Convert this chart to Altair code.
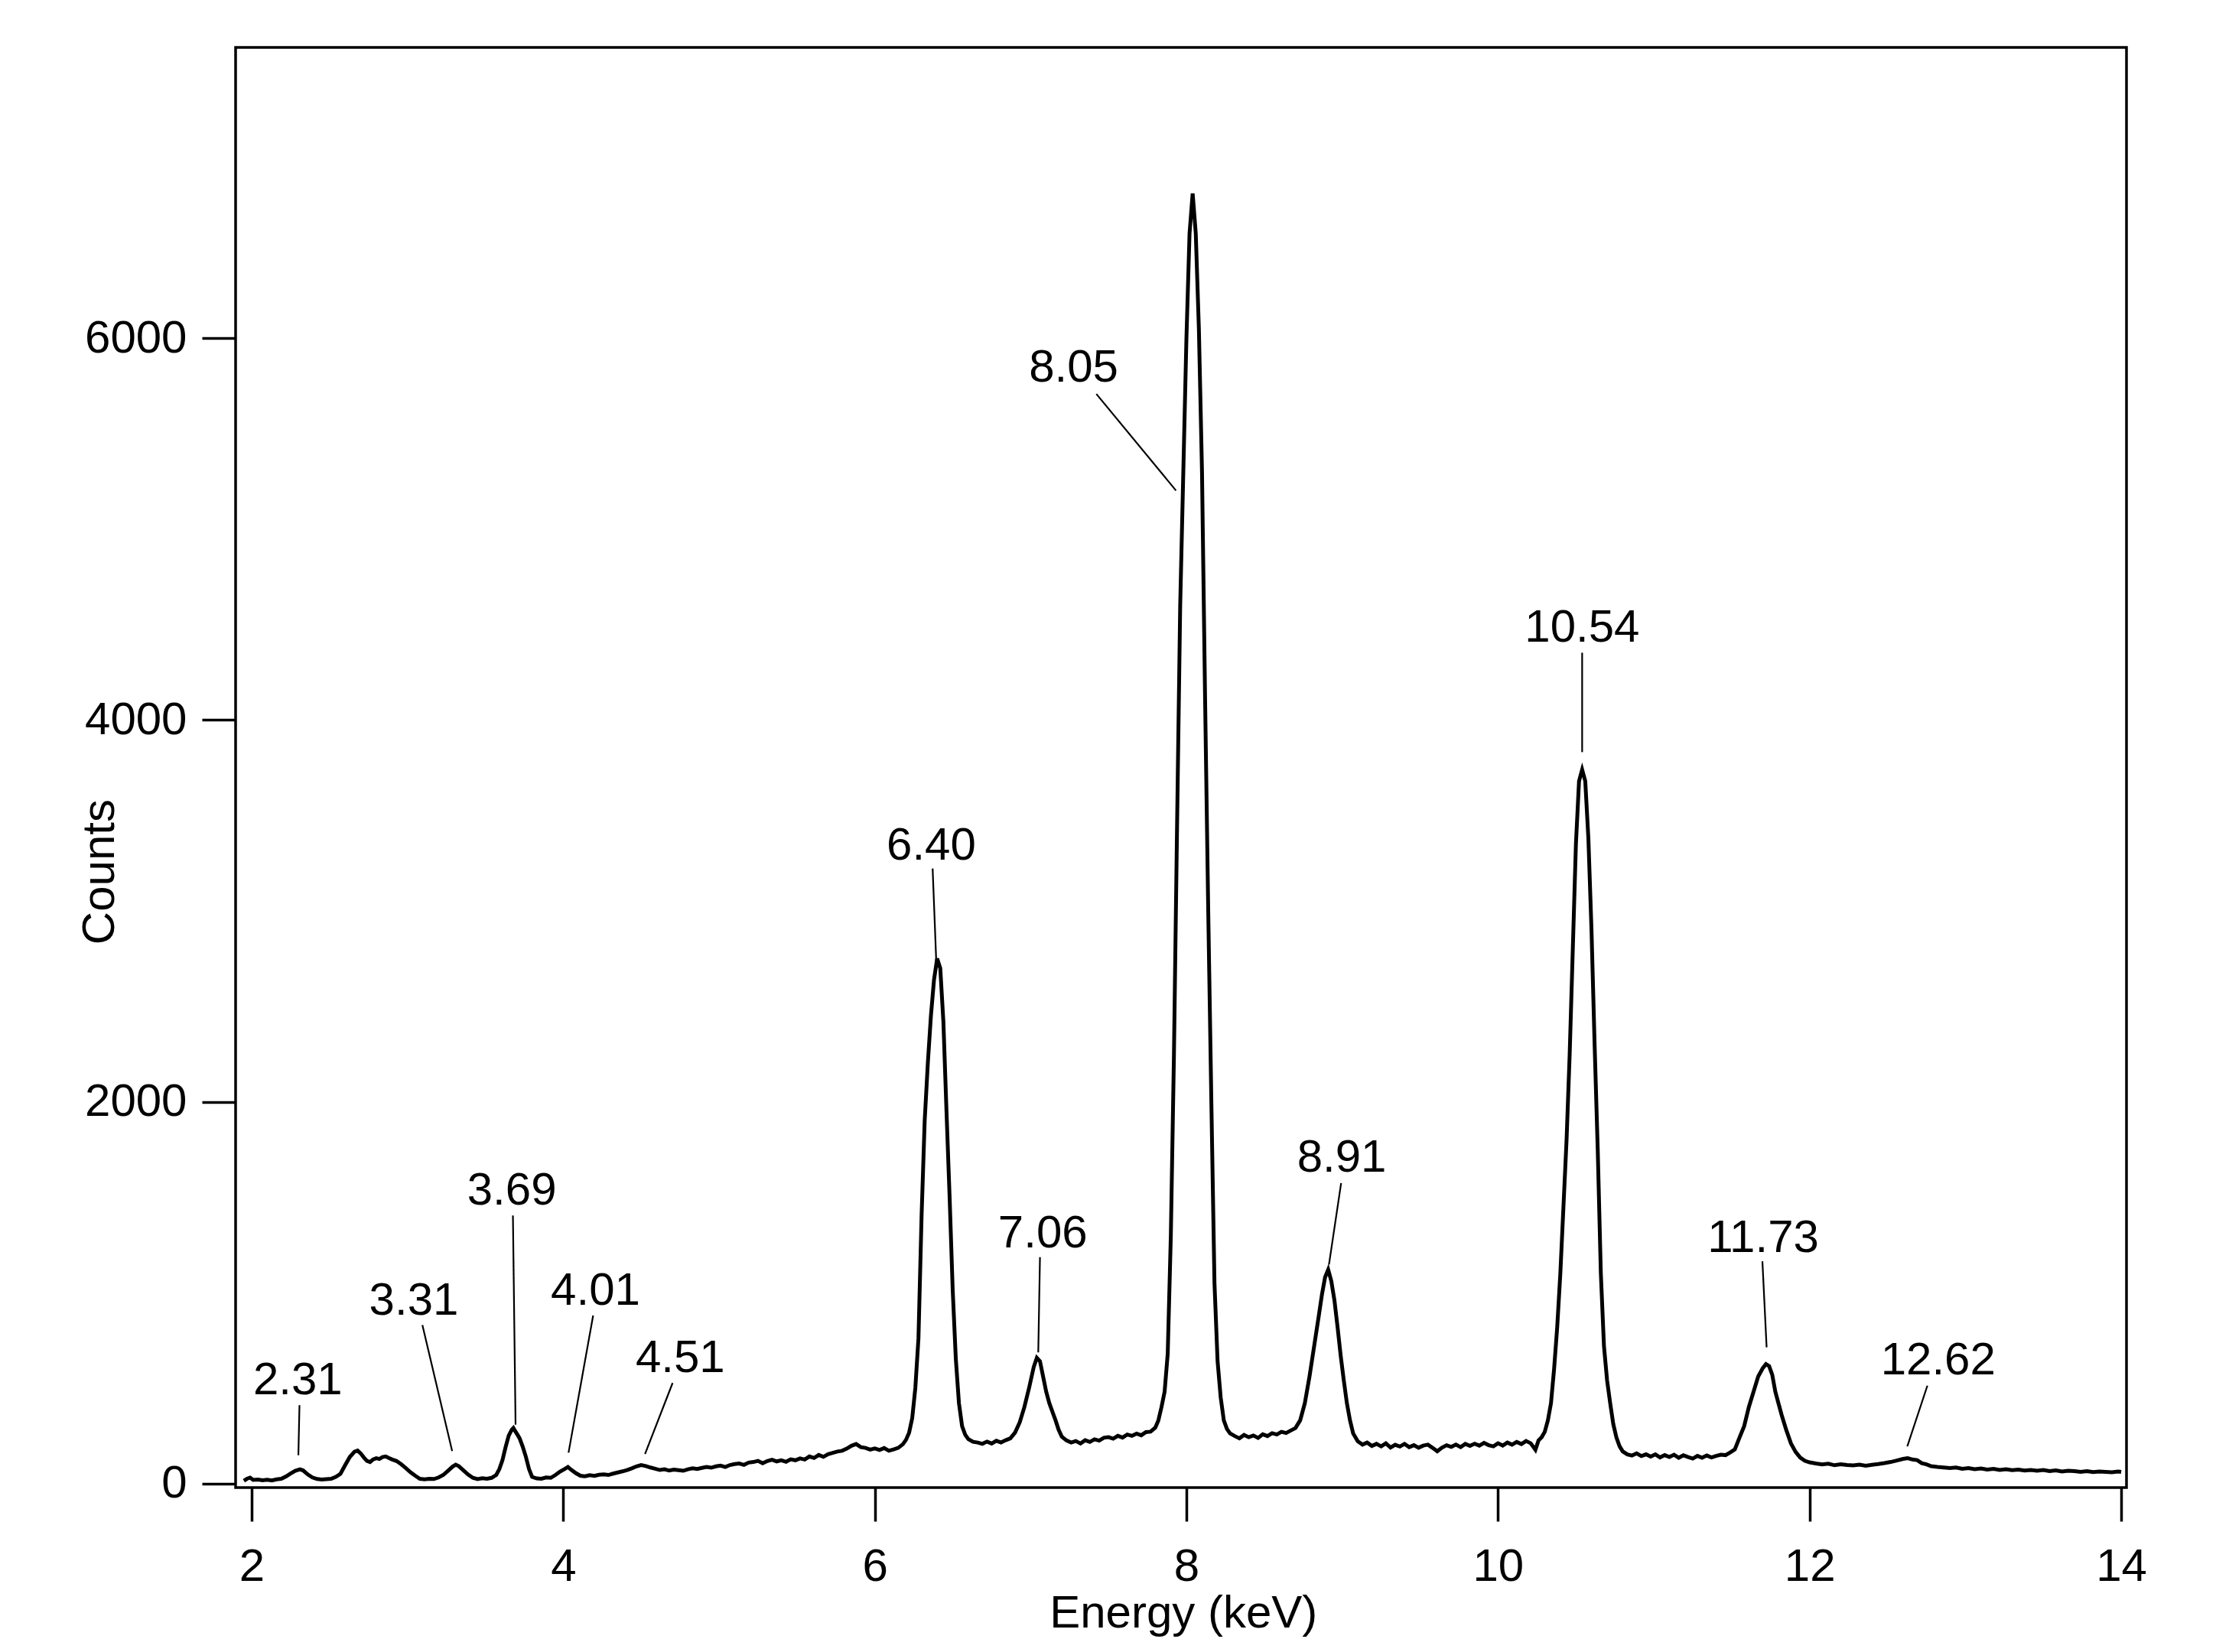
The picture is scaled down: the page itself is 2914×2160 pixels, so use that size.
import altair as alt
import pandas as pd

FONT = "Liberation Sans"

# ---- spectrum (segment by segment) ----
eA = [1.95,1.97,1.99,2.01,2.04,2.07,2.10,2.13,2.16,2.19,2.22,2.25,2.28,2.31,2.33,2.36,2.39,2.42,2.45,2.48,2.51,2.54,2.57,2.60,2.63,2.66,2.68,2.70,2.72,2.74,2.76,2.78,2.80,2.82,2.84,2.86,2.88,2.90,2.93,2.96,2.99]
cA = [14,24,30,18,20,16,19,15,21,24,36,52,66,74,68,47,31,23,20,22,24,34,50,95,138,166,172,157,136,118,112,126,132,128,138,141,133,126,117,100,80]

eB = [3.02,3.05,3.08,3.11,3.14,3.17,3.20,3.23,3.26,3.29,3.31,3.33,3.36,3.39,3.42,3.45,3.48,3.51,3.54,3.57,3.59,3.61,3.63,3.65,3.67,3.68,3.69,3.71,3.72,3.74,3.76,3.78,3.80,3.83,3.86,3.89,3.92,3.95,3.98]
cB = [58,40,24,21,24,23,31,44,66,88,98,90,68,46,29,22,27,24,29,44,75,122,190,250,282,290,276,250,236,192,140,76,34,26,24,31,29,44,62]

eC = [4.01,4.03,4.05,4.08,4.11,4.14,4.17,4.20,4.23,4.26,4.29,4.32,4.35,4.38,4.41,4.44,4.47,4.50,4.53,4.56,4.59,4.62,4.65,4.68,4.71,4.74,4.77,4.80,4.83,4.86,4.89,4.92,4.95,4.98,5.01,5.04,5.07,5.10,5.13,5.16,5.19,5.22,5.25,5.28,5.31,5.34,5.37,5.40,5.43,5.46,5.49,5.52,5.55,5.58,5.61,5.64,5.67,5.70,5.73,5.76,5.79,5.82,5.85,5.88,5.91,5.94,5.97,6.00,6.03,6.06,6.09,6.12,6.15,6.18]
cC = [76,86,72,54,40,37,43,39,45,47,44,51,57,63,70,79,89,96,91,83,77,70,74,67,72,69,66,74,79,75,81,86,82,89,93,86,96,101,104,97,109,112,118,105,117,124,115,121,113,126,121,131,125,141,133,149,139,153,160,167,171,182,197,206,190,186,177,183,175,185,171,178,186,205]

eD = [6.20,6.22,6.24,6.26,6.28,6.30,6.32,6.34,6.36,6.38,6.40,6.42,6.44,6.46,6.48,6.50,6.52,6.54,6.56,6.58,6.60,6.63,6.66,6.69,6.72,6.75,6.78,6.81,6.84,6.87,6.90,6.93,6.96,6.99,7.02,7.04,7.06,7.08,7.10,7.12,7.14,7.16,7.18,7.20]
cD = [228,266,342,500,760,1400,1900,2200,2450,2640,2750,2700,2420,1950,1500,1010,650,420,300,255,232,218,214,207,219,209,223,214,226,236,266,320,400,500,610,658,640,560,480,420,375,330,280,245]

eE = [7.23,7.26,7.29,7.32,7.35,7.38,7.41,7.44,7.47,7.50,7.53,7.56,7.59,7.62,7.65,7.68,7.71,7.74,7.77,7.80,7.82,7.84,7.86,7.88,7.90,7.92,7.94,7.96,7.98,8.00,8.02,8.04,8.06,8.08,8.10,8.12,8.14,8.16,8.18,8.20,8.22,8.24,8.26,8.28]
cE = [225,214,222,209,226,217,231,224,239,242,234,249,240,256,249,261,252,269,271,292,330,400,480,680,1300,2250,3450,4600,5300,6000,6550,6760,6550,6050,5300,4100,3000,2000,1050,640,450,330,285,262]

eF = [8.31,8.34,8.37,8.40,8.43,8.46,8.49,8.52,8.55,8.58,8.61,8.64,8.67,8.70,8.73,8.76,8.79,8.82,8.85,8.87,8.89,8.91,8.93,8.95,8.97,8.99,9.01,9.03,9.05,9.07,9.10,9.13,9.16,9.19,9.22,9.25,9.28,9.31,9.34,9.37,9.40,9.43,9.46,9.49,9.52,9.55,9.58,9.61,9.64,9.67,9.70,9.73,9.76,9.79,9.82,9.85,9.88,9.91,9.94,9.97,10.00,10.03,10.06,10.09,10.12,10.15,10.18,10.21,10.24,10.26,10.28]
cF = [248,236,254,242,251,238,257,248,263,256,270,264,277,290,330,420,560,720,880,990,1080,1120,1060,960,820,670,540,420,330,262,220,203,214,196,207,194,210,188,202,193,207,190,200,187,198,203,186,168,187,200,191,203,190,207,196,208,198,212,200,194,210,198,214,203,217,206,222,210,176,225,242]

eG = [10.30,10.32,10.34,10.36,10.38,10.40,10.42,10.44,10.46,10.48,10.50,10.52,10.54,10.56,10.58,10.60,10.62,10.64,10.66,10.68,10.70,10.72,10.74,10.76,10.78,10.80,10.83,10.86,10.89,10.92,10.95,10.98,11.01,11.04,11.07,11.10,11.13,11.16,11.19,11.22,11.25,11.28,11.31,11.34,11.37,11.40,11.43,11.46,11.49]
cG = [270,330,420,600,820,1100,1450,1800,2250,2800,3350,3680,3740,3680,3380,2900,2300,1750,1100,720,540,420,310,240,195,168,152,146,157,143,152,140,152,136,148,138,150,134,147,138,130,144,134,146,136,144,150,148,162]

eH = [11.52,11.55,11.58,11.61,11.64,11.67,11.70,11.72,11.74,11.76,11.78,11.80,11.82,11.85,11.88,11.91,11.94,11.97,12.00,12.04,12.08,12.12,12.16,12.20,12.24,12.28,12.32,12.36,12.40,12.44,12.48,12.52,12.56,12.60,12.63,12.66,12.69,12.72,12.75,12.78,12.82,12.86,12.90,12.94,12.98,13.02,13.06,13.10,13.14,13.18,13.22,13.26,13.30,13.34,13.38,13.42,13.46,13.50,13.54,13.58,13.62,13.66,13.70,13.74,13.78,13.82,13.86,13.90,13.94,13.98,14.00]
cH = [178,240,300,400,480,560,605,625,615,570,480,420,360,280,210,165,135,118,110,104,99,103,95,100,96,94,98,92,97,101,106,112,120,128,132,125,122,106,100,90,86,83,80,83,76,80,74,78,72,76,70,74,69,72,67,70,66,70,64,68,62,66,64,60,64,59,62,60,58,62,60]

# ---- peak annotations ----
labels  = ["2.31", "3.31", "3.69", "4.01", "4.51", "6.40", "7.06", "8.05", "8.91", "10.54", "11.73", "12.62"]
label_x = [2.296, 3.041, 3.670, 4.207, 4.751, 6.362, 7.078, 7.276, 8.997, 10.540, 11.702, 12.825]
label_y = [538, 957, 1534, 1010, 656, 3342, 1310, 5845, 1704, 4481, 1286, 644]
lead_x1 = [2.307, 3.096, 3.677, 4.192, 4.702, 6.371, 7.060, 7.422, 8.993, 10.540, 11.697, 12.756]
lead_y1 = [410, 830, 1404, 880, 526, 3222, 1185, 5709, 1574, 4353, 1164, 512]
lead_x2 = [2.300, 3.287, 3.694, 4.034, 4.525, 6.395, 7.049, 7.933, 8.915, 10.540, 11.724, 12.627]
lead_y2 = [147, 169, 308, 161, 154, 2720, 686, 5203, 1147, 3832, 713, 194]

x_ticks = [2, 4, 6, 8, 10, 12, 14]
y_ticks = [0, 2000, 4000, 6000]

energy = eA + eB + eC + eD + eE + eF + eG + eH
counts = cA + cB + cC + cD + cE + cF + cG + cH
spec = pd.DataFrame({"energy": energy, "counts": counts})
ann = pd.DataFrame({"label": labels, "energy": label_x, "counts": label_y})
lead = pd.DataFrame({"energy": lead_x1, "counts": lead_y1, "energy2": lead_x2, "counts2": lead_y2})

xscale = alt.Scale(domain=[1.897, 14.034], nice=False, zero=False)
yscale = alt.Scale(domain=[-22, 7525], nice=False, zero=False)

common = dict(
    grid=False, domain=False, ticks=True, tickSize=44, tickWidth=3.5, tickColor="black",
    labelFont=FONT, labelFontSize=60, labelColor="black", labelFlush=False, labelOverlap=False,
    titleFont=FONT, titleFontSize=60, titleFontWeight="normal", titleColor="black",
    titleAlign="center", titleBaseline="middle", format="d",
)
xaxis = alt.Axis(title="Energy (keV)", values=x_ticks, labelPadding=30,
                 titleX=1238.7, titleY=164.4, titleAngle=0, **common)
yaxis = alt.Axis(title="Counts", values=y_ticks, labelPadding=20,
                 titleX=-178, titleY=1077.6, titleAngle=270, **common)

X = lambda f: alt.X(f, type="quantitative", scale=xscale, axis=xaxis)
Y = lambda f: alt.Y(f, type="quantitative", scale=yscale, axis=yaxis)

line = alt.Chart(spec).mark_line(color="black", strokeWidth=5, strokeJoin="miter", clip=True).encode(
    x=X("energy"), y=Y("counts"))

rules = alt.Chart(lead).mark_rule(color="black", strokeWidth=2.2).encode(
    x=X("energy"), y=Y("counts"), x2="energy2:Q", y2="counts2:Q")

texts = alt.Chart(ann).mark_text(font=FONT, fontSize=60, color="black",
                                 align="center", baseline="middle").encode(
    x=X("energy"), y=Y("counts"), text="label:N")

chart = alt.layer(line, rules, texts).properties(
    width=2472, height=1883,
    autosize=alt.AutoSizeParams(type="none"),
    padding={"left": 300, "top": 54, "right": 120, "bottom": 200},
    background="white",
).configure_view(stroke="black", strokeWidth=3.5)

chart.save("out.html", embed_options={"renderer": "svg", "actions": False})
